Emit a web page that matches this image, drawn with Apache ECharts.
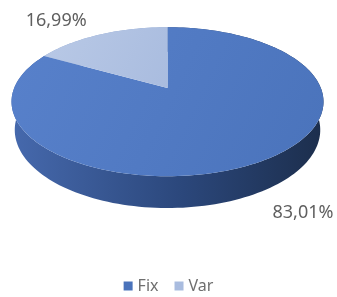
<!DOCTYPE html>
<html>
<head>
<meta charset="utf-8">
<script src="https://cdn.jsdelivr.net/npm/echarts@6/dist/echarts.min.js"></script>
<style>
  html, body { margin: 0; padding: 0; background: #fff; }
  #chart { width: 337px; height: 297px; }
</style>
</head>
<body>
<div id="chart"></div>
<script>
const categories = ['Fix', 'Var'];
const shares = [83.01, 16.99];
const shareLabels = ['83,01%', '16,99%'];

const topColors = [['#5881cb', '#4a73bb'], ['#b9c9e6', '#a9bcdf']];
const sideColors = [['#4669ad', '#2b477b', '#1c2e4c'], ['#8ea6d0', '#8ea6d0', '#8ea6d0']];

// simple perspective camera for a tilted disc
const tilt = 28 * Math.PI / 180;
const camDist = 4.8;
const focal = 736;
const depth = 0.21;
const cosT = Math.cos(tilt), sinT = Math.sin(tilt);

function project(cx, cy, X, Y, Z) {
    const yc = Y * cosT + Z * sinT;
    const zc = camDist + Z * cosT - Y * sinT;
    return [cx + focal * X / zc, cy - focal * yc / zc];
}

const total = shares.reduce((a, b) => a + b, 0);
const starts = [];
shares.reduce((acc, v, i) => { starts[i] = acc; return acc + v; }, 0);

function arc(cx, cy, a0, a1, Y, r) {
    const pts = [];
    const n = Math.max(4, Math.ceil((a1 - a0) / 0.03));
    for (let i = 0; i <= n; i++) {
        const a = a0 + (a1 - a0) * i / n;
        pts.push(project(cx, cy, r * Math.sin(a), Y, r * Math.cos(a)));
    }
    return pts;
}

function renderSlice(params, api) {
    const idx = params.seriesIndex;
    const cx = api.getWidth() / 2 - 1;
    const cy = 88;
    const a0 = api.value(0) / total * Math.PI * 2;
    const a1 = (api.value(0) + api.value(1)) / total * Math.PI * 2;
    const topArc = arc(cx, cy, a0, a1, 0, 1);
    const botArc = arc(cx, cy, a0, a1, -depth, 1).reverse();
    const apex = project(cx, cy, 0, 0, 0);
    // label sits outside the visible rim at the slice's middle angle
    const mid = (a0 + a1) / 2;
    const sx = Math.sin(mid), sz = Math.cos(mid);
    const rim = project(cx, cy, sx, sz > 0 ? 0 : -depth, sz);
    const lab = [rim[0] + (sx > 0 ? 45 : -44), rim[1] + (sz > 0 ? -14 : 20)];
    return {
        type: 'group',
        children: [
            {
                type: 'polygon',
                z2: 1,
                shape: { points: topArc.concat(botArc) },
                style: {
                    fill: new echarts.graphic.LinearGradient(0, 0, 1, 0, [
                        { offset: 0, color: sideColors[idx][0] },
                        { offset: 0.55, color: sideColors[idx][1] },
                        { offset: 1, color: sideColors[idx][2] }
                    ])
                }
            },
            {
                type: 'polygon',
                z2: 10,
                shape: { points: [apex].concat(topArc) },
                style: {
                    fill: new echarts.graphic.LinearGradient(0, 0, 1, 1, [
                        { offset: 0, color: topColors[idx][0] },
                        { offset: 1, color: topColors[idx][1] }
                    ])
                }
            },
            {
                type: 'text',
                z2: 20,
                style: {
                    text: shareLabels[idx],
                    x: lab[0],
                    y: lab[1],
                    fill: '#5f5f5f',
                    font: '18px "Noto Sans"',
                    align: 'center',
                    verticalAlign: 'middle'
                }
            }
        ]
    };
}

const chart = echarts.init(document.getElementById('chart'));

const option = {
    animation: false,
    legend: {
        data: categories,
        top: 278,
        padding: 0,
        icon: 'rect',
        itemWidth: 9,
        itemHeight: 9,
        itemGap: 16,
        textStyle: {
            fontFamily: 'Noto Sans',
            fontSize: 16,
            color: '#6f6f6f'
        }
    },
    series: categories.map((name, i) => ({
        name: name,
        type: 'custom',
        coordinateSystem: 'none',
        silent: true,
        itemStyle: { color: topColors[i][1] },
        renderItem: renderSlice,
        data: [[starts[i], shares[i]]]
    }))
};

option && chart.setOption(option);
</script>
</body>
</html>
